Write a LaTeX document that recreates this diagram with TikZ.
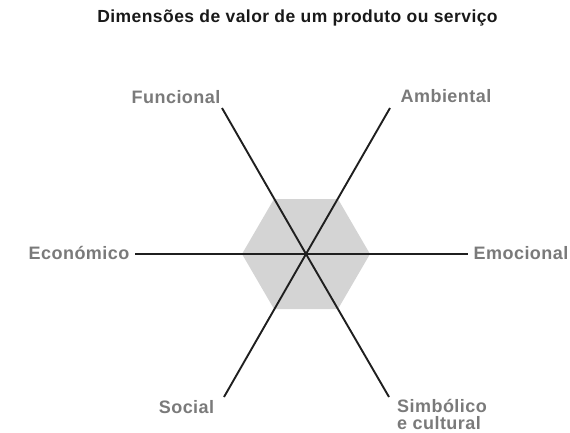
\documentclass[tikz,border=0pt]{standalone}
\usepackage{fontspec}
\setmainfont{Liberation Sans}[LetterSpace=2.5]
\begin{document}
\begin{tikzpicture}[x=1pt,y=-1pt,
  lbl/.style={text=black!52, font=\fontsize{18}{17}\selectfont\bfseries, inner sep=0pt},
  ttl/.style={text=black!90, font=\fontsize{17.5}{18}\selectfont\bfseries, inner sep=0pt},
  axisline/.style={draw=black!88, line width=1.9pt},
  hexfill/.style={fill=black!17, draw=none}]
\useasboundingbox (0,0) rectangle (570,433);
\coordinate (c) at (306,254);
\fill[hexfill] (370,254) -- (338,199) -- (274,199) -- (242,254) -- (274,309) -- (338,309) -- cycle;
\coordinate (fun) at (222,108);
\coordinate (amb) at (390,108);
\coordinate (soc) at (224,397);
\coordinate (sim) at (389,397);
\coordinate (eco) at (135,254);
\coordinate (emo) at (468,254);
\draw[axisline] (fun) -- (c) -- (sim);
\draw[axisline] (amb) -- (c) -- (soc);
\draw[axisline] (eco) -- (c) -- (emo);
\node[ttl] (title) at (297.5,18) {Dimensões de valor de um produto ou serviço};
\node[lbl] (lfun) at (176,97) {Funcional};
\node[lbl] (lamb) at (446,96) {Ambiental};
\node[lbl] (leco) at (79,253) {Económico};
\node[lbl] (lemo) at (521,253) {Emocional};
\node[lbl] (lsoc) at (186.5,407) {Social};
\node[lbl, anchor=west, align=left] (lsim) at (397,414) {Simbólico\\e cultural};
\end{tikzpicture}
\end{document}
